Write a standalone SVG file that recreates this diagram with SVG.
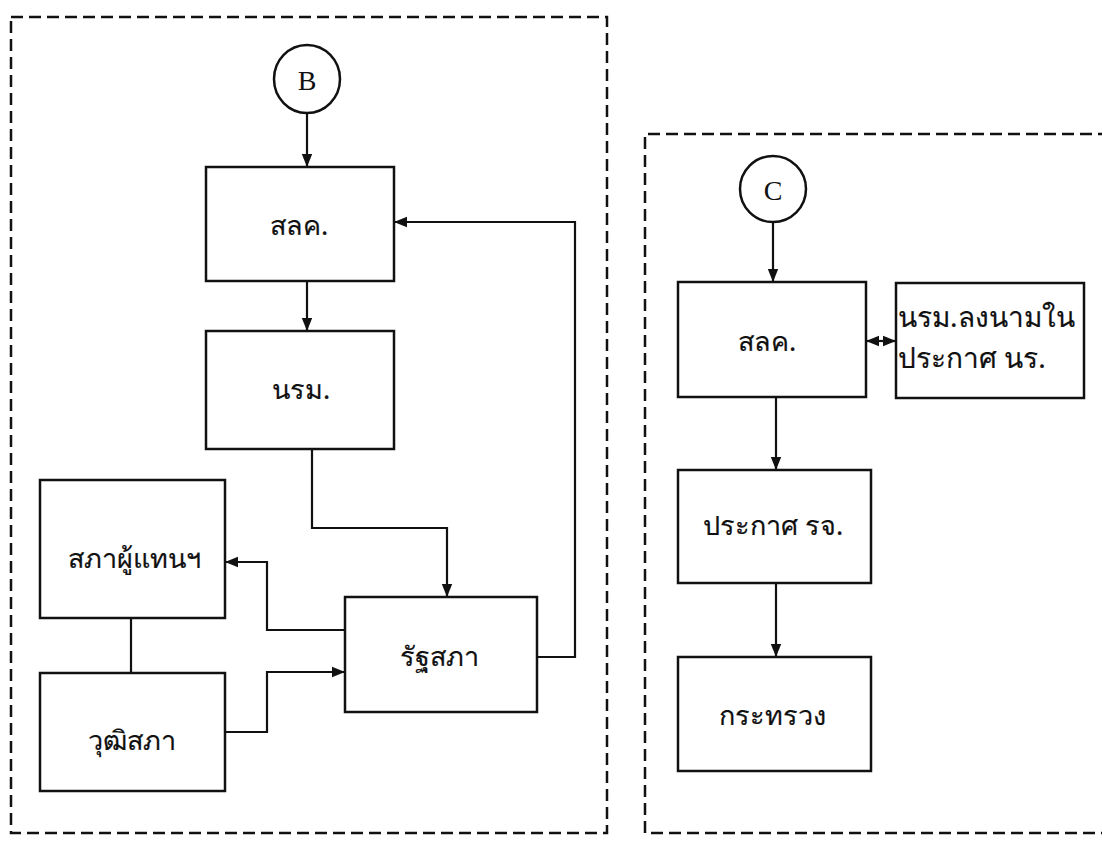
<svg xmlns="http://www.w3.org/2000/svg" width="1102" height="841" viewBox="0 0 1102 841">
<style>
.frame{fill:none;stroke:#111;stroke-width:2.5;stroke-dasharray:12 6}
.box{fill:#fff;stroke:#111;stroke-width:2.5}
.conn{fill:none;stroke:#111;stroke-width:2.2}
.t{font-family:"Noto Sans","DejaVu Sans",sans-serif;font-size:27px;fill:#111;stroke:#111;stroke-width:0.2;text-anchor:middle;dominant-baseline:central}
.t2{font-family:"Noto Sans","DejaVu Sans",sans-serif;font-size:28px;fill:#111;stroke:#111;stroke-width:0.2;dominant-baseline:central}
.lt{font-family:"Liberation Serif",serif;font-size:28px;fill:#111;text-anchor:middle;dominant-baseline:central}
</style>
<defs>
<marker id="ahs" viewBox="0 0 10 10" refX="10" refY="5" markerWidth="13" markerHeight="13" orient="auto-start-reverse" markerUnits="userSpaceOnUse">
<path d="M0,1 L10,5 L0,9 z" fill="#111"/>
</marker>
</defs>
<rect width="1102" height="841" fill="#fff"/>
<g id="frames">
<rect class="frame" x="11" y="17" width="596" height="816"/>
<path class="frame" d="M1110,134 H645 V833 H1110"/>
</g>
<g id="connectors">
<path class="conn" d="M307,113 V167" marker-end="url(#ahs)"/>
<path class="conn" d="M307,281 V331" marker-end="url(#ahs)"/>
<path class="conn" d="M312,449 V528 H447 V597" marker-end="url(#ahs)"/>
<path class="conn" d="M537,657 H575 V222 H394" marker-end="url(#ahs)"/>
<path class="conn" d="M345,630 H267 V562 H225" marker-end="url(#ahs)"/>
<path class="conn" d="M225,732 H267 V672 H345" marker-end="url(#ahs)"/>
<path class="conn" d="M131,618 V673"/>
<path class="conn" d="M773,222 V282" marker-end="url(#ahs)"/>
<path class="conn" d="M866,341 H896" marker-start="url(#ahs)" marker-end="url(#ahs)"/>
<path class="conn" d="M776,397 V470" marker-end="url(#ahs)"/>
<path class="conn" d="M776,583 V657" marker-end="url(#ahs)"/>
</g>
<g id="nodeB">
<ellipse class="box" cx="307" cy="79" rx="33" ry="34"/>
<text class="lt" x="307" y="80">B</text>
</g>
<g id="slk1">
<rect class="box" x="206" y="167" width="188" height="114"/>
<text class="t" x="299" y="224">สลค.</text>
</g>
<g id="nrm">
<rect class="box" x="206" y="331" width="188" height="118"/>
<text class="t" x="301" y="388">นรม.</text>
</g>
<g id="sapha-phuthaen">
<rect class="box" x="40" y="480" width="185" height="138"/>
<text class="t" x="134" y="557">สภาผู้แทนฯ</text>
</g>
<g id="wutthisapha">
<rect class="box" x="40" y="673" width="185" height="118"/>
<text class="t" x="132" y="739">วุฒิสภา</text>
</g>
<g id="ratthasapha">
<rect class="box" x="345" y="597" width="192" height="115"/>
<text class="t" x="439" y="655">รัฐสภา</text>
</g>
<g id="nodeC">
<ellipse class="box" cx="773" cy="189" rx="33" ry="33"/>
<text class="lt" x="773" y="190">C</text>
</g>
<g id="slk2">
<rect class="box" x="678" y="282" width="188" height="115"/>
<text class="t" x="767" y="340">สลค.</text>
</g>
<g id="nrm-sign">
<rect class="box" x="896" y="283" width="188" height="115"/>
<text class="t2" x="898" y="316">นรม.ลงนามใน</text>
<text class="t2" x="898" y="357">ประกาศ นร.</text>
</g>
<g id="prakat">
<rect class="box" x="678" y="470" width="193" height="113"/>
<text class="t" x="773" y="524">ประกาศ รจ.</text>
</g>
<g id="krasuang">
<rect class="box" x="678" y="657" width="193" height="114"/>
<text class="t" x="772" y="714">กระทรวง</text>
</g>
</svg>
